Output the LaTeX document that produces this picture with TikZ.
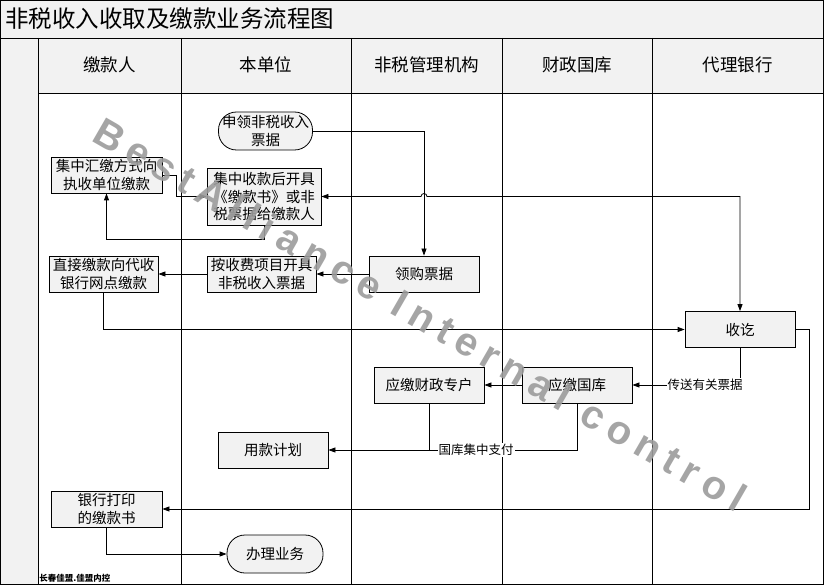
\documentclass[tikz,border=0pt]{standalone}
\usepackage{fontspec}
\setmainfont{Noto Sans CJK SC}
\newfontfamily\wmfont[LetterSpace=19.5]{Liberation Sans}
\usetikzlibrary{arrows.meta}
\definecolor{boxgray}{HTML}{F2F2F2}
\definecolor{wmgray}{HTML}{9C9C9C}
\begin{document}
\begin{tikzpicture}[x=1pt,y=-1pt,
  line width=0.8pt,
  box/.style={draw=black,line width=0.8pt,fill=boxgray,inner sep=0pt,align=center,font=\fontsize{14.5}{17.5}\selectfont},
  stad/.style={box,rounded corners=18pt},
  conn/.style={line width=0.8pt,-{Triangle[length=7pt,width=5pt]}},
  conntwo/.style={line width=0.8pt,{Triangle[length=7pt,width=5pt]}-{Triangle[length=7pt,width=5pt]}},
  lbl/.style={fill=white,inner sep=1pt,font=\fontsize{12.5}{14}\selectfont},
  hdr/.style={font=\fontsize{17.5}{20}\selectfont}]
\useasboundingbox (0,0) rectangle (824,585);
% background
\fill[white] (0,0) rectangle (824,585);
\fill[boxgray] (0,0) rectangle (823,38);
\fill[boxgray] (0,38) rectangle (38,584);
\fill[boxgray] (38,38) rectangle (823,93);
\draw (0.5,0.5) rectangle (823,584);
\draw (0,38) -- (823,38);
\draw (38,38) -- (38,584);
\draw (38,93) -- (823,93);
\foreach \cx in {181,351,502,652} {\draw (\cx,38) -- (\cx,584);}
% title and headers
\node[anchor=west,inner sep=0pt,font=\fontsize{23.5}{26}\selectfont] (title) at (5,19) {非税收入收取及缴款业务流程图};
\node[hdr] (h1) at (109.5,65) {缴款人};
\node[hdr] (h2) at (266,65) {本单位};
\node[hdr] (h3) at (426.5,65) {非税管理机构};
\node[hdr] (h4) at (577,65) {财政国库};
\node[hdr] (h5) at (737.5,65) {代理银行};
% nodes
\node[stad,minimum width=94pt,minimum height=38pt] (sl) at (265.5,131) {申领非税收入\\票据};
\node[box,minimum width=111pt,minimum height=36pt] (jzhj) at (106.5,175) {集中汇缴方式向\\执收单位缴款};
\node[box,minimum width=114pt,minimum height=57pt] (jzsk) at (264,196.5) {集中收款后开具\\《缴款书》或非\\税票据给缴款人};
\node[box,minimum width=109pt,minimum height=36pt] (zjjk) at (103.5,274) {直接缴款向代收\\银行网点缴款};
\node[box,minimum width=109pt,minimum height=36pt] (asf) at (261.5,274) {按收费项目开具\\非税收入票据};
\node[box,minimum width=110pt,minimum height=36pt] (lg) at (424,274) {领购票据};
\node[box,minimum width=110pt,minimum height=36pt] (sq) at (740,329.5) {收讫};
\node[box,minimum width=110pt,minimum height=36pt] (yjgk) at (577,385) {应缴国库};
\node[box,minimum width=110pt,minimum height=36pt] (yjcz) at (429,385) {应缴财政专户};
\node[box,minimum width=110pt,minimum height=36pt] (ykjh) at (273,450) {用款计划};
\node[box,minimum width=111pt,minimum height=36pt] (yhdy) at (106.5,509) {银行打印\\的缴款书};
\node[stad,minimum width=96pt,minimum height=38pt] (blyw) at (275,554) {办理业务};
% connectors
\draw[conn] (sl.east) -- (424,131) -- (lg.north);
\draw[conntwo] (jzsk.east) -- (421,196.5) arc[start angle=180,end angle=0,radius=3pt] -- (740,196.5) -- (sq.north);
\draw[conn] (jzhj.east) -- (176,175) -- (176,196.5) -- (jzsk.west);
\draw[conn] (jzsk.south) -- (264,239) -- (106.5,239) -- (jzhj.south);
\draw[conn] (lg.west) -- (asf.east);
\draw[conn] (asf.west) -- (zjjk.east);
\draw[conn] (zjjk.south) -- (103.5,329.5) -- (sq.west);
\draw[conn] (sq.south) -- (740,385) -- (yjgk.east);
\node[lbl] (l1) at (705,385) {传送有关票据};
\draw[conn] (yjgk.west) -- (yjcz.east);
\draw[conn] (yjgk.south) -- (577,450) -- (ykjh.east);
\draw (yjcz.south) -- (429,450);
\node[lbl] (l2) at (476,450) {国库集中支付};
\draw[conn] (sq.east) -- (809,329.5) -- (809,509) -- (yhdy.east);
\draw[conn] (yhdy.south) -- (106.5,554) -- (blyw.west);
% footer
\node[anchor=west,inner sep=0pt,font=\fontsize{8.5}{9}\selectfont\bfseries] (ft) at (39,578) {长春佳盟.佳盟内控};
% watermark
\node[rotate=-30,anchor=base west,inner sep=0pt,text=wmgray,opacity=0.9,font=\wmfont\bfseries\fontsize{40}{40}\selectfont] (wm) at (90,140) {BestAlliance Internal control};
\end{tikzpicture}
\end{document}
